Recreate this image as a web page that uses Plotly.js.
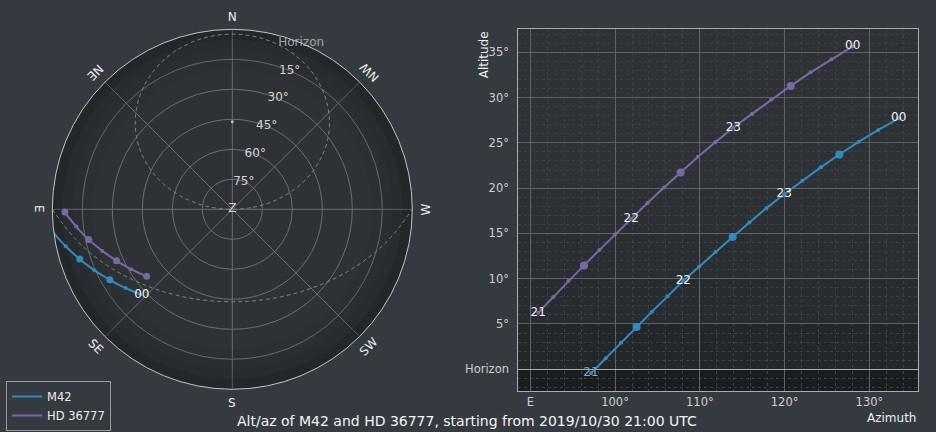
<!DOCTYPE html>
<html><head><meta charset="utf-8">
<script src="https://cdn.plot.ly/plotly-3.0.1.min.js"></script>
<style>html,body{margin:0;padding:0;background:#343a3f;}#chart{width:936px;height:432px;}</style>
</head><body><div id="chart"></div>
<script>
// ---- data (10-minute steps, 21:00 -> 00:00 UTC) ----
const times = ['21:00','21:10','21:20','21:30','21:40','21:50','22:00','22:10','22:20','22:30','22:40','22:50','23:00','23:10','23:20','23:30','23:40','23:50','00:00'];
const m42Az  = [97.16, 98.89, 100.70, 102.54, 104.35, 106.20, 108.05, 109.94, 111.86, 113.87, 115.84, 117.84, 119.95, 122.09, 124.29, 126.45, 128.73, 131.05, 133.45];
const m42Alt = [-0.44, 1.21, 2.94, 4.67, 6.36, 8.05, 9.78, 11.36, 12.98, 14.60, 16.21, 17.79, 19.32, 20.81, 22.32, 23.71, 25.11, 26.43, 27.70];
const hdAz   = [90.94, 92.71, 94.48, 96.33, 98.14, 99.99, 101.90, 103.84, 105.77, 107.73, 109.78, 111.82, 113.95, 116.15, 118.43, 120.71, 123.07, 125.51, 128.03];
const hdAlt  = [6.25, 7.98, 9.74, 11.47, 13.16, 14.89, 16.60, 18.38, 20.07, 21.73, 23.46, 25.07, 26.69, 28.20, 29.78, 31.29, 32.79, 34.23, 35.65];
const hourIdx = [0, 6, 12, 18];
const hourLabels = ['21', '22', '23', '00'];
const halfIdx = [3, 9, 15];

// guide curves in the sky map
const equatorAz  = [90, 100.95, 112.6, 125.8, 141.3, 159.6, 180, 200.4, 218.7, 234.2, 247.4, 259.05, 270];
const equatorAlt = [0, 10.3, 20.2, 29.3, 36.8, 41.9, 43.8, 41.9, 36.8, 29.3, 20.2, 10.3, 0];
const circleAz  = [270, 275.4, 280.9, 286.7, 292.6, 299.0, 305.8, 313.3, 321.4, 330.2, 339.6, 349.7, 360, 10.3, 20.4, 29.8, 38.6, 46.7, 54.2, 61.0, 67.4, 73.3, 79.1, 84.6, 90];
const circleAlt = [90, 79.6, 69.4, 59.3, 49.5, 40.2, 31.4, 23.4, 16.35, 10.5, 6.1, 3.34, 2.4, 3.34, 6.1, 10.5, 16.35, 23.4, 31.4, 40.2, 49.5, 59.3, 69.4, 79.6, 90];
const poleAz = [0];
const poleAlt = [46.2];

// axes / labels
const compassText = ['N', 'NE', 'E', 'SE', 'S', 'SW', 'W', 'NW'];
const compassAz = [0, 45, 90, 135, 180, 225, 270, 315];
const ringAlt = [75, 60, 45, 30, 15, 0];
const ringText = ['75°', '60°', '45°', '30°', '15°', 'Horizon'];
const altTicks = [0, 5, 10, 15, 20, 25, 30, 35];
const altTickText = ['Horizon', '5°', '10°', '15°', '20°', '25°', '30°', '35°'];
const azTicks = [90, 100, 110, 120, 130];
const azTickText = ['E', '100°', '110°', '120°', '130°'];
const bandLow  = [-90, 0, 5, 10, 15];
const bandHigh = [0, 5, 10, 15, 20];
const bandAlpha = [0.42, 0.22, 0.13, 0.07, 0.035];

// ---- styling ----
const W = 936, H = 432;
const BLUE = '#348ABD', PURPLE = '#7A68A6';
const PAGE = '#343a3f', PBG = '#2e3236';
const FONT = 'DejaVu Sans';
const polarDomX = [0.0559, 0.4405], polarDomY = [0.0988, 0.9322];

const zen = a => a.map(v => 90 - v);
const pick = (arr, idx) => idx.map(i => arr[i]);

const traces = [];
// horizon shading rings in the sky map
bandLow.forEach((lo, k) => {
  const hi = bandHigh[k];
  const rIn = 90 - Math.min(hi, 90), rOut = Math.min(90 - lo, 90);
  if (rOut <= rIn) return;
  traces.push({type: 'barpolar', subplot: 'polar', theta: [45, 135, 225, 315], width: [90, 90, 90, 90],
    base: [rIn, rIn, rIn, rIn], r: [rOut - rIn, rOut - rIn, rOut - rIn, rOut - rIn],
    marker: {color: 'rgba(0,0,0,' + bandAlpha[k] + ')', line: {width: 0}}, showlegend: false, hoverinfo: 'skip'});
});
// dashed guides
traces.push({type: 'scatterpolar', theta: equatorAz, r: zen(equatorAlt), mode: 'lines',
  line: {color: '#7c8185', width: 1, dash: '4px,3px', shape: 'spline'}, showlegend: false, hoverinfo: 'skip'});
traces.push({type: 'scatterpolar', theta: circleAz, r: zen(circleAlt), mode: 'lines',
  line: {color: '#7c8185', width: 1, dash: '4px,3px', shape: 'spline'}, showlegend: false, hoverinfo: 'skip'});
traces.push({type: 'scatterpolar', theta: poleAz, r: zen(poleAlt), mode: 'markers',
  marker: {color: '#b9b3e0', size: 3}, showlegend: false, hoverinfo: 'skip'});

// series in sky map
traces.push({type: 'scatterpolar', name: 'M42', theta: m42Az, r: zen(m42Alt), mode: 'lines',
  line: {color: BLUE, width: 2}, showlegend: true, legendrank: 1, hoverinfo: 'skip'});
traces.push({type: 'scatterpolar', name: 'HD 36777', theta: hdAz, r: zen(hdAlt), mode: 'lines',
  line: {color: PURPLE, width: 2}, showlegend: true, legendrank: 2, hoverinfo: 'skip'});
traces.push({type: 'scatterpolar', theta: pick(m42Az, [0, 6, 12]), r: zen(pick(m42Alt, [0, 6, 12])), mode: 'markers',
  marker: {color: BLUE, size: 7}, showlegend: false, hoverinfo: 'skip'});
traces.push({type: 'scatterpolar', theta: pick(hdAz, hourIdx), r: zen(pick(hdAlt, hourIdx)), mode: 'markers',
  marker: {color: PURPLE, size: 7}, showlegend: false, hoverinfo: 'skip'});
traces.push({type: 'scatterpolar', theta: pick(m42Az, halfIdx), r: zen(pick(m42Alt, halfIdx)), mode: 'markers',
  marker: {color: BLUE, size: 4}, showlegend: false, hoverinfo: 'skip'});
traces.push({type: 'scatterpolar', theta: pick(hdAz, halfIdx), r: zen(pick(hdAlt, halfIdx)), mode: 'markers',
  marker: {color: PURPLE, size: 4}, showlegend: false, hoverinfo: 'skip'});
traces.push({type: 'scatterpolar', theta: [m42Az[18]], r: zen([m42Alt[18]]), mode: 'text', text: [hourLabels[3]],
  textfont: {family: FONT, size: 12, color: '#f2f2f2'}, cliponaxis: false, showlegend: false, hoverinfo: 'skip'});
// ring labels + zenith
traces.push({type: 'scatterpolar', theta: ringAlt.map(() => 337.5), r: zen(ringAlt), mode: 'text', text: ringText,
  textfont: {family: FONT, size: 12, color: ringText.map(t => t === 'Horizon' ? '#a3a6a9' : '#d2d2d2')},
  cliponaxis: false, showlegend: false, hoverinfo: 'skip'});
traces.push({type: 'scatterpolar', theta: [0], r: [0], mode: 'text', text: ['Z'],
  textfont: {family: FONT, size: 12, color: '#d2d2d2'}, cliponaxis: false, showlegend: false, hoverinfo: 'skip'});

// ---- cartesian panel ----
const xy = {xaxis: 'x', yaxis: 'y', hoverinfo: 'skip', showlegend: false};
traces.push(Object.assign({type: 'scatter', x: m42Az, y: m42Alt, mode: 'lines+markers',
  line: {color: BLUE, width: 2}, marker: {color: BLUE, size: 4}}, xy));
traces.push(Object.assign({type: 'scatter', x: hdAz, y: hdAlt, mode: 'lines+markers',
  line: {color: PURPLE, width: 2}, marker: {color: PURPLE, size: 4}}, xy));
traces.push(Object.assign({type: 'scatter', x: pick(m42Az, halfIdx), y: pick(m42Alt, halfIdx), mode: 'markers',
  marker: {color: BLUE, size: 8}}, xy));
traces.push(Object.assign({type: 'scatter', x: pick(hdAz, halfIdx), y: pick(hdAlt, halfIdx), mode: 'markers',
  marker: {color: PURPLE, size: 8}}, xy));
traces.push(Object.assign({type: 'scatter', x: pick(m42Az, hourIdx), y: pick(m42Alt, hourIdx), mode: 'text',
  text: hourLabels, textposition: 'middle center', cliponaxis: false,
  textfont: {family: FONT, size: 12, color: hourIdx.map(i => m42Alt[i] < 0 ? '#8ea4b1' : '#f4f4f4')}}, xy));
traces.push(Object.assign({type: 'scatter', x: pick(hdAz, hourIdx), y: pick(hdAlt, hourIdx), mode: 'text',
  text: hourLabels, textposition: 'middle center', cliponaxis: false,
  textfont: {family: FONT, size: 12, color: '#eeeeee'}}, xy));

// ---- shapes: horizon shading in the cartesian panel ----
const shapes = bandLow.map((lo, k) => ({type: 'rect', layer: 'below', xref: 'x domain', x0: 0, x1: 1,
  yref: 'y', y0: lo, y1: bandHigh[k], fillcolor: 'rgba(0,0,0,' + bandAlpha[k] + ')', line: {width: 0}}));

// ---- annotations ----
const cx = (polarDomX[0] + polarDomX[1]) / 2 * W;
const cy = (1 - (polarDomY[0] + polarDomY[1]) / 2) * H;
const Rl = 194;
const annotations = compassText.map((t, k) => {
  const a = compassAz[k] * Math.PI / 180;
  let ang = -(180 + compassAz[k]);
  while (ang <= -180) ang += 360;
  while (ang > 180) ang -= 360;
  return {xref: 'paper', yref: 'paper', x: (cx - Rl * Math.sin(a)) / W, y: 1 - (cy - Rl * Math.cos(a)) / H,
    text: t, showarrow: false, textangle: ang, xanchor: 'center', yanchor: 'middle',
    font: {family: FONT, size: 12, color: '#eeeeee'}};
});
annotations.push({xref: 'paper', yref: 'paper', x: 0.499, y: 0.0255, xanchor: 'center', yanchor: 'middle', showarrow: false,
  text: 'Alt/az of M42 and HD 36777, starting from 2019/10/30 21:00 UTC', font: {family: FONT, size: 14, color: '#f4f4f4'}});
annotations.push({xref: 'paper', yref: 'paper', x: 0.9808, y: 0.0335, xanchor: 'right', yanchor: 'middle', showarrow: false,
  text: 'Azimuth', font: {family: FONT, size: 12, color: '#f0f0f0'}});
annotations.push({xref: 'paper', yref: 'paper', x: 0.518, y: 0.933, xanchor: 'center', yanchor: 'top', showarrow: false,
  textangle: -90, text: 'Altitude', font: {family: FONT, size: 12, color: '#f0f0f0'}});

const layout = {
  width: W, height: H, margin: {l: 0, r: 0, t: 0, b: 0},
  paper_bgcolor: PAGE, plot_bgcolor: PBG,
  font: {family: FONT, size: 11.5, color: '#cfcfcf'},
  hovermode: false,
  polar: {
    domain: {x: polarDomX, y: polarDomY}, bgcolor: PBG, barmode: 'overlay',
    radialaxis: {range: [0, 90], tickvals: [15, 30, 45, 60, 75, 90], showticklabels: false, ticks: '',
      showline: false, gridcolor: '#6b6f73', gridwidth: 1},
    angularaxis: {rotation: 90, direction: 'counterclockwise', tickvals: compassAz, showticklabels: false,
      ticks: '', showline: true, linecolor: '#c4c4c4', linewidth: 1, gridcolor: '#6b6f73', gridwidth: 1}
  },
  xaxis: {domain: [0.5537, 0.9805], range: [88.58, 135.7], tickvals: azTicks, ticktext: azTickText,
    showgrid: true, gridcolor: '#5f6367', zeroline: false, showline: true, mirror: true, linecolor: '#a9abad',
    ticks: '', tickfont: {color: '#cfcfcf'},
    minor: {dtick: 2, tick0: 90, showgrid: true, gridcolor: '#3d4145', griddash: 'dot', ticks: ''}},
  yaxis: {domain: [0.0949, 0.9322], range: [-2.4, 37.54], tickvals: altTicks, ticktext: altTickText,
    showgrid: true, gridcolor: '#5f6367', zeroline: true, zerolinecolor: '#a9abad', zerolinewidth: 1,
    showline: true, mirror: true, linecolor: '#a9abad',
    ticks: 'outside', ticklen: 6, tickcolor: 'rgba(0,0,0,0)', tickfont: {color: '#cfcfcf'},
    minor: {dtick: 1, tick0: 0, showgrid: true, gridcolor: '#3d4145', griddash: 'dot', ticks: ''}},
  showlegend: true,
  legend: {x: 0.0064, y: 0.0023, xanchor: 'left', yanchor: 'bottom', bgcolor: PAGE, bordercolor: '#9a9c9e',
    borderwidth: 1, font: {family: FONT, size: 11.5, color: '#ececec'}, itemwidth: 30, tracegroupgap: 0},
  shapes: shapes, annotations: annotations
};

Plotly.newPlot('chart', traces, layout, {staticPlot: true, displayModeBar: false});
</script></body></html>
